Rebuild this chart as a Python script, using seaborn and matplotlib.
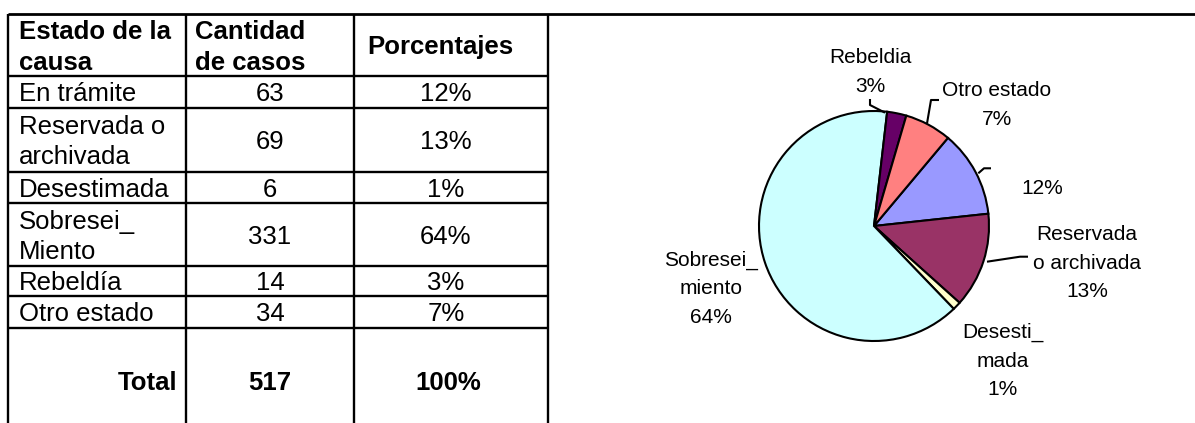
import matplotlib
matplotlib.use("Agg")
import matplotlib.pyplot as plt
import seaborn as sns

# ---------------- data ----------------
estados_tabla = ["En trámite", "Reservada o\narchivada", "Desestimada",
                 "Sobresei_\nMiento", "Rebeldía", "Otro estado"]
cantidades = [63, 69, 6, 331, 14, 34]
encabezados = ["Estado de la\ncausa", "Cantidad\nde casos", "Porcentajes"]
etiqueta_total = "Total"
etiquetas_torta = ["", "Reservada\no archivada", "Desesti_\nmada",
                   "Sobresei_\nmiento", "Rebeldia", "Otro estado"]
colores = ["#9999FF", "#993366", "#FFFFCC", "#CCFFFF", "#660066", "#FF8080"]

total = sum(cantidades)
porcentajes = [f"{round(100 * v / total)}%" for v in cantidades]

# ---------------- style ----------------
sns.set_theme(style="white")
plt.rcParams["font.family"] = ["Liberation Sans", "DejaVu Sans"]

W, H = 1195, 423
DPI = 100
fig = plt.figure(figsize=(W / DPI, H / DPI), dpi=DPI)
fig.patch.set_facecolor("white")

ax = fig.add_axes([0, 0, 1, 1])
ax.set_xlim(0, W)
ax.set_ylim(H, 0)
ax.axis("off")

# ---------------- table layout ----------------
col_x = [8, 186, 354, 548]
row_y = [14, 76, 108, 172, 203, 266, 296, 328, 433]
FS_T = 18.5
LW = 1.7


def px(fs):
    return fs * DPI / 72.0


def cell_text(x, top, bottom, s, ha, fs, bold=False, pitch=30):
    lines = s.split("\n")
    n = len(lines)
    c = (top + bottom) / 2.0
    cap = 0.716 * px(fs)
    for i, line in enumerate(lines):
        y = c + (i - (n - 1) / 2.0) * pitch + cap / 2.0
        ax.text(x, y, line, ha=ha, va="baseline", fontsize=fs,
                fontweight="bold" if bold else "normal", color="black")


ax.hlines(row_y[1:-1], col_x[0], col_x[-1], color="black", lw=LW)
ax.hlines(row_y[0], col_x[0], W, color="black", lw=2.0)
ax.vlines(col_x, row_y[0], H, color="black", lw=LW)

# header
cell_text(19, row_y[0], row_y[1], encabezados[0], "left", FS_T, True, 31)
cell_text(195, row_y[0], row_y[1], encabezados[1], "left", FS_T, True, 31)
cell_text(440, row_y[0], row_y[1], encabezados[2], "center", FS_T, True, 31)

for i, (nombre, cant, pct) in enumerate(zip(estados_tabla, cantidades, porcentajes)):
    top, bot = row_y[i + 1], row_y[i + 2]
    cell_text(19, top, bot, nombre, "left", FS_T, False, 30)
    cell_text(270, top, bot, str(cant), "center", FS_T)
    cell_text(446, top, bot, pct, "center", FS_T)

top, bot = row_y[-2], row_y[-1]
cell_text(177, top, bot, etiqueta_total, "right", FS_T, True)
cell_text(270, top, bot, str(total), "center", FS_T, True)
cell_text(448, top, bot, "100%", "center", FS_T, True)

# ---------------- pie ----------------
R = 115.0
cx, cy = 874.0, 226.0
axp = fig.add_axes([0, 0, 1, 1])
pal = sns.color_palette(colores)
axp.pie(cantidades, colors=pal, startangle=50, counterclock=False,
        wedgeprops=dict(edgecolor="black", linewidth=1.5), radius=1.0)
axp.set_aspect("auto")
axp.set_xlim(-cx / R, (W - cx) / R)
axp.set_ylim(-(H - cy) / R, cy / R)
axp.axis("off")

# pie labels (pixel layout)
FS_P = 15
label_pos = {  # index -> (center x, first line center y)
    0: (1042, 186.7),
    1: (1087, 232.7),
    2: (1003, 330.7),
    3: (711, 258.3),
    4: (870, 56.0),
    5: (997, 89.0),
}
leaders = {
    0: [(991, 168.3), (984, 168.3), (978.3, 173.3)],
    1: [(1028, 256.7), (1020, 256.7), (987, 261.7)],
    4: [(870, 99), (870, 105), (885, 112.7)],
    5: [(939, 100), (931, 100), (927, 123.5)],
}

for i, (nombre, pct) in enumerate(zip(etiquetas_torta, porcentajes)):
    texto = (nombre + "\n" + pct) if nombre else pct
    lines = texto.split("\n")
    x0, y0 = label_pos[i]
    for j, line in enumerate(lines):
        axp.text(x0, y0 + j * 28.5 + 0.716 * px(FS_P) / 2.0, line,
                 transform=ax.transData, ha="center", va="baseline",
                 fontsize=FS_P, color="black")
    if i in leaders:
        xs = [p[0] for p in leaders[i]]
        ys = [p[1] for p in leaders[i]]
        axp.plot(xs, ys, color="black", lw=1.5, transform=ax.transData,
                 solid_capstyle="butt", clip_on=False)

fig.savefig("out.png", dpi=DPI, facecolor="white")
